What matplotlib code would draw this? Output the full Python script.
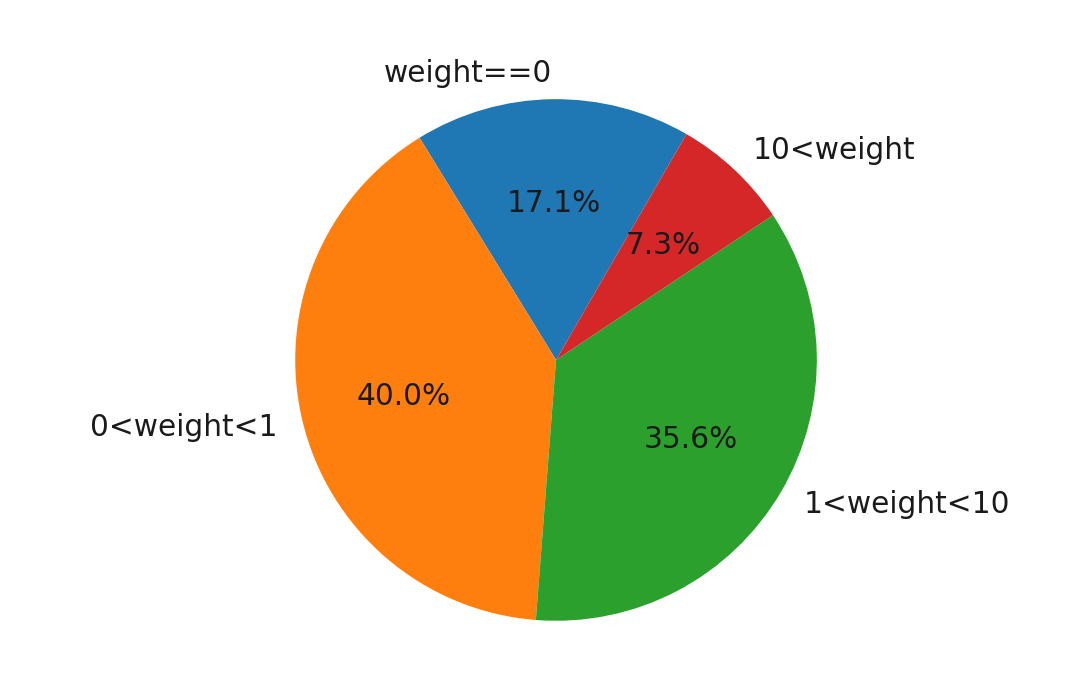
import matplotlib
matplotlib.use("Agg")
import matplotlib.pyplot as plt

labels = ["weight==0", "0<weight<1", "1<weight<10", "10<weight"]
shares = [17.1, 40.0, 35.6, 7.3]
colors = ["#1f77b4", "#ff7f0e", "#2ca02c", "#d62728"]

fig = plt.figure(figsize=(10.8, 6.89), dpi=100)
ax = fig.add_axes([0.2130, 0.0044, 0.6037, 0.9463])
ax.pie(shares, labels=labels, colors=colors, autopct="%1.1f%%", startangle=60,
       textprops={"fontsize": 21.3, "color": "#1a1a1a"})
ax.set_xlim(-1.25, 1.25)
ax.set_ylim(-1.25, 1.25)
fig.savefig("out.png", dpi=100)
